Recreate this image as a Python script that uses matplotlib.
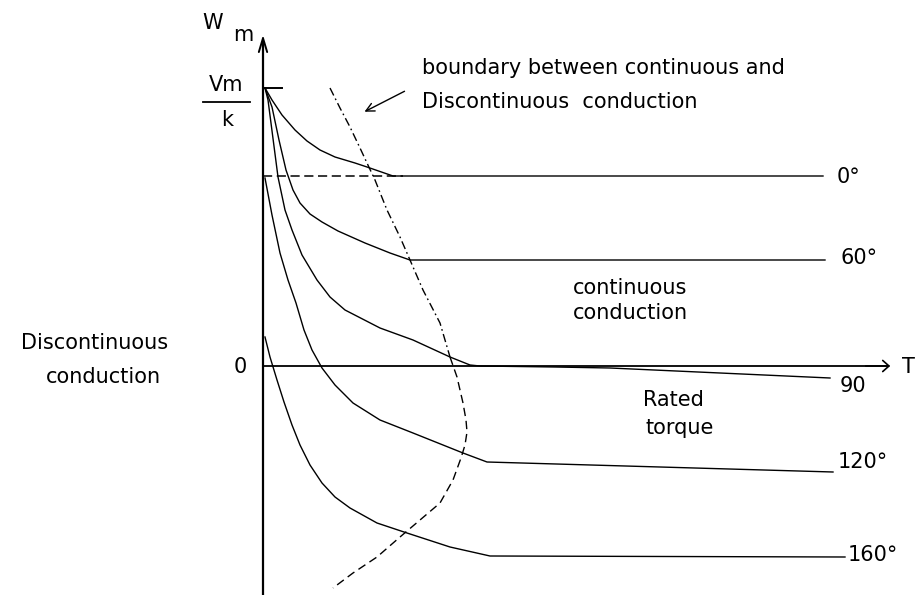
import matplotlib
matplotlib.use('Agg')
import matplotlib.pyplot as plt

# speed-torque curves, origin at the axes cross (T right, Wm up)
t_0 = [2, 9, 19, 32, 44, 57, 72, 92, 104, 130, 560]
w_0 = [278, 266, 251, 236, 225, 216, 209, 203, 199, 190, 190]

t_60 = [2, 9, 16, 23, 30, 37, 47, 59, 75, 102, 127, 147, 562]
w_60 = [278, 259, 226, 196, 176, 163, 152, 144, 135, 123, 113, 106, 106]

t_90 = [2, 5, 15, 22, 29, 39, 54, 67, 82, 117, 150, 187, 207, 217, 292, 347, 567]
w_90 = [278, 266, 189, 156, 136, 111, 86, 69, 56, 38, 26, 9, 1, 0, -1, -2, -12]

t_120 = [2, 9, 17, 25, 33, 41, 49, 59, 72, 90, 117, 150, 200, 224, 570]
w_120 = [188, 151, 113, 86, 63, 36, 16, -2, -19, -37, -54, -67, -87, -96, -106]

t_160 = [2, 7, 14, 21, 29, 37, 47, 59, 72, 87, 114, 144, 187, 227, 582]
w_160 = [29, 9, -14, -36, -59, -79, -99, -117, -131, -142, -157, -167, -181, -190, -191]

# boundary between continuous and discontinuous conduction
# upper part (dash-dot) and lower part (dashes)
t_bnd_up = [67, 77, 87, 97, 104, 112, 124, 137, 147, 160, 177, 187]
w_bnd_up = [278, 258, 239, 218, 203, 186, 156, 129, 106, 76, 43, 9]
t_bnd_lo = [187, 194, 200, 203, 204, 202, 198, 190, 177, 157, 137, 114, 90, 70]
w_bnd_lo = [9, -11, -37, -54, -66, -79, -92, -114, -137, -154, -171, -191, -207, -222]

curves = [(t_0, w_0), (t_60, w_60), (t_90, w_90), (t_120, w_120), (t_160, w_160)]
angle_labels = ['0°', '60°', '90', '120°', '160°']
label_pos = [(574, 189), (577, 108), (577, -20), (575, -96), (585, -189)]

vm_k = 278

fig = plt.figure(figsize=(9.15, 5.95), dpi=100)
ax = fig.add_axes([0, 0, 1, 1])
ax.set_xlim(-263, 652)
ax.set_ylim(-229, 366)
ax.axis('off')

fs = 15
font = dict(family='DejaVu Sans', fontsize=fs, color='black')

# axes
ax.plot([0, 0], [-229, 320], color='black', lw=1.6)
ax.annotate('', xy=(0, 334), xytext=(0, 300),
            arrowprops=dict(arrowstyle='->,head_length=1.0,head_width=0.3', lw=1.4, color='black'))
ax.plot([0, 625], [0, 0], color='black', lw=1.3)
ax.annotate('', xy=(630, 0), xytext=(600, 0),
            arrowprops=dict(arrowstyle='->,head_length=0.45,head_width=0.4', lw=1.2, color='black'))

# Vm/k tick and dashed level
ax.plot([0, 19], [vm_k, vm_k], color='black', lw=1.4)
ax.plot([0, 140], [190, 190], color='black', lw=1.1, linestyle=(0, (6, 3)))

for (t, w) in curves:
    ax.plot(t, w, color='black', lw=1.0)

ax.plot(t_bnd_up, w_bnd_up, color='black', lw=1.0, linestyle=(0, (6, 2.5, 1.2, 2.5)))
ax.plot(t_bnd_lo, w_bnd_lo, color='black', lw=1.0, linestyle=(0, (6, 3.5)))

for lab, (x, y) in zip(angle_labels, label_pos):
    ax.text(x, y, lab, ha='left', va='center', **font)

# labels
ax.text(-50, 343, 'W', ha='center', va='center', **font)
ax.text(-20, 331, 'm', ha='center', va='center', **font)
ax.text(-37, 281, 'Vm', ha='center', va='center', **font)
ax.plot([-60, -13], [264, 264], color='black', lw=1.3)
ax.text(-36, 246, 'k', ha='center', va='center', **font)
ax.text(-23, -1, '0', ha='center', va='center', **font)
ax.text(639, -1, 'T', ha='left', va='center', **font)

ax.text(159, 298, 'boundary between continuous and', ha='left', va='center', **font)
ax.text(159, 264, 'Discontinuous  conduction', ha='left', va='center', **font)
ax.annotate('', xy=(99, 253), xytext=(144, 276),
            arrowprops=dict(arrowstyle='->,head_length=0.6,head_width=0.3', lw=1.0, color='black'))

ax.text(-168, 23, 'Discontinuous', ha='center', va='center', **font)
ax.text(-160, -11, 'conduction', ha='center', va='center', **font)

ax.text(310, 78, 'continuous', ha='left', va='center', **font)
ax.text(310, 53, 'conduction', ha='left', va='center', **font)
ax.text(380, -34, 'Rated', ha='left', va='center', **font)
ax.text(382, -62, 'torque', ha='left', va='center', **font)

fig.savefig('out.png', dpi=100)
